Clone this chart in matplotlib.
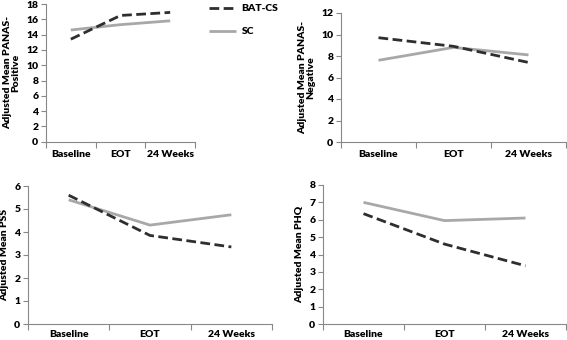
import matplotlib
matplotlib.use("Agg")
import matplotlib.pyplot as plt
from matplotlib.ticker import FixedLocator, MultipleLocator

plt.rcParams['font.family'] = ['Lato', 'DejaVu Sans']
plt.rcParams['font.weight'] = 'heavy'

categories = ["Baseline", "EOT", "24 Weeks"]
series_names = ["BAT-CS", "SC"]

panas_pos_bat = [13.4, 16.5, 16.9]
panas_pos_sc = [14.6, 15.3, 15.8]
panas_neg_bat = [9.7, 8.9, 7.4]
panas_neg_sc = [7.6, 8.8, 8.1]
pss_bat = [5.6, 3.85, 3.35]
pss_sc = [5.4, 4.3, 4.75]
phq_bat = [6.35, 4.6, 3.35]
phq_sc = [7.0, 5.95, 6.1]

W, H = 567, 340
fig = plt.figure(figsize=(W / 100, H / 100), dpi=100)

dark = "#2e2e2e"
gray = "#a8a8a8"

def px_axes(l, r, t, b):
    return fig.add_axes([l / W, (H - b) / H, (r - l) / W, (b - t) / H])

panels = [
    dict(box=(46, 195, 4, 141.7), bat=panas_pos_bat, sc=panas_pos_sc, ymax=18, step=2,
         ylabel="Adjusted Mean PANAS-\nPositive", xpad=6),
    dict(box=(341, 566, 13, 142), bat=panas_neg_bat, sc=panas_neg_sc, ymax=12, step=2,
         ylabel="Adjusted Mean PANAS-\nNegative", xpad=6),
    dict(box=(28, 272, 186, 324), bat=pss_bat, sc=pss_sc, ymax=6, step=1,
         ylabel="Adjusted Mean PSS", xpad=4),
    dict(box=(323, 566, 185, 324), bat=phq_bat, sc=phq_sc, ymax=8, step=1,
         ylabel="Adjusted Mean PHQ", xpad=4),
]

x = list(range(len(categories)))
handles = None
for p in panels:
    ax = px_axes(*p["box"])
    l1, = ax.plot(x, p["sc"], color=gray, lw=2.0, solid_capstyle='butt', label=series_names[1])
    l2, = ax.plot(x, p["bat"], color=dark, lw=2.0, dashes=(3.5, 1.6), label=series_names[0])
    if handles is None:
        handles = (l2, l1)
    ax.set_xlim(-0.5, 2.5)
    ax.set_ylim(0, p["ymax"])
    ax.yaxis.set_major_locator(MultipleLocator(p["step"]))
    ax.set_xticks(x)
    ax.set_xticklabels(categories)
    ax.xaxis.set_minor_locator(FixedLocator([-0.5, 0.5, 1.5, 2.5]))
    ax.tick_params(axis='x', which='major', length=0, pad=p["xpad"], labelsize=7.5)
    ax.tick_params(axis='x', which='minor', length=4, width=0.8, color="#888888")
    ax.tick_params(axis='y', length=3.5, width=0.8, color="#888888", labelsize=7.5, pad=2)
    for s in ("top", "right"):
        ax.spines[s].set_visible(False)
    for s in ("left", "bottom"):
        ax.spines[s].set_color("#888888")
        ax.spines[s].set_linewidth(0.8)
    ax.set_ylabel(p["ylabel"], fontsize=7.5, fontweight='heavy', labelpad=4, linespacing=1.0)

leg = fig.legend(handles, series_names, loc='upper left', bbox_to_anchor=(205 / W, 1 - 0 / H),
                 frameon=False, fontsize=7.5, handlelength=2.6, labelspacing=1.3,
                 handletextpad=0.5, borderaxespad=0)

fig.savefig("out.png", dpi=100)
